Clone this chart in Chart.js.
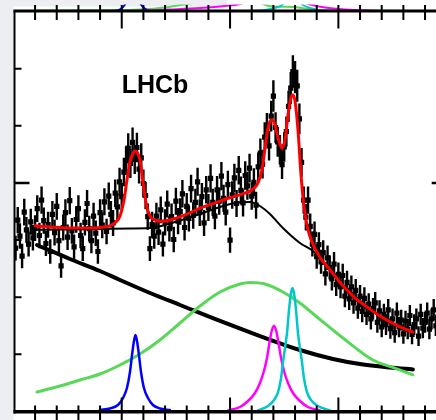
<!DOCTYPE html>
<html>
<head>
<meta charset="utf-8">
<script src="https://cdn.jsdelivr.net/npm/chart.js@4/dist/chart.umd.min.js"></script>
<style>
  html, body { margin: 0; padding: 0; background: #ffffff; }
  #wrap { width: 436px; height: 420px; overflow: hidden; position: relative; }
  canvas { display: block; }
</style>
</head>
<body>
<div id="wrap"><canvas id="c" width="452" height="420"></canvas></div>
<script>
// Histogram: 2 MeV bins starting at 2401 MeV
const binLow = 2401;
const binWidth = 2;
const counts = [
  386, 435, 407, 372, 449, 418, 393, 432, 404, 421,
  455, 408, 470, 434, 394, 427, 380, 445, 413, 459,
  399, 355, 422, 448, 405, 469, 416, 388, 436, 455,
  408, 385, 431, 464, 420, 399, 442, 412, 380, 448,
  426, 467, 415, 477, 445, 430, 482, 458, 502, 476,
  519, 539, 561, 534, 571, 541, 562, 524, 544, 499,
  478, 441, 385, 427, 407, 442, 414, 453, 393, 431,
  463, 420, 441, 401, 468, 433, 450, 481, 422, 459,
  438, 490, 443, 466, 502, 448, 476, 430, 488, 457,
  508, 466, 442, 488, 468, 512, 473, 449, 497, 400,
  479, 509, 464, 522, 487, 465, 513, 495, 526, 477,
  501, 461, 528, 552, 533, 580, 596, 565, 617, 652,
  597, 572, 558, 532, 563, 590, 634, 666, 695, 685,
  670, 612, 536, 470, 440, 470, 424, 393, 410, 371,
  392, 362, 378, 341, 369, 352, 332, 358, 322, 340,
  318, 338, 302, 326, 297, 318, 290, 312, 281, 302,
  275, 298, 270, 288, 262, 280, 290, 256, 276, 248,
  270, 252, 278, 245, 262, 238, 272, 248, 260, 236,
  258, 244, 268, 235, 252, 262, 232, 270, 246, 256,
  272, 244, 262, 278, 250, 266, 255, 274, 248, 262
];

// Fit curves, [mass, events]
const fitTotal = [
  [2420,425],[2434,423],[2452,421],[2471,421],[2480,422],[2489,425],[2494.7,431.6],
  [2498.4,442],[2502.1,470],[2504.8,505],[2507.6,537],[2510.4,552],[2512.2,556],
  [2514.1,554],[2516.8,540],[2519.6,502],[2522.4,465],[2526.1,442],[2530.7,435],
  [2535.3,433],[2544.5,435],[2558.4,444],[2572.2,456],[2586.1,465],[2599.9,474],
  [2613.7,482],[2621.2,489],[2625.8,500],[2629.5,523],[2632.3,561],[2635,596],
  [2637.8,610],[2640.6,607],[2644.3,579],[2647.9,561],[2650.7,575],[2653.5,619],
  [2656.3,650],[2658.1,654],[2660,643],[2662.7,593],[2665.5,514],[2668.3,458],
  [2671.9,418],[2676.5,393],[2683,370],[2692.2,348],[2704.2,320],[2715.3,299],
  [2726.4,283],[2738.4,267],[2747.6,257],[2756.9,248],[2768.8,239]
];
const bkgTotal = [
  [2420,418],[2443,418.5],[2480,419.4],[2507.6,420.3],[2526.1,421.1],[2549.2,431.6],
  [2572.2,445.6],[2590.7,457.9],[2604.5,464.9],[2618.4,466.6],[2627.6,459.6],
  [2636.8,445.6],[2648.8,421.1],[2664.5,394.9],[2676.5,380.9],[2683,368.6],
  [2692.2,346.8],[2704.2,318.8],[2715.3,297.8],[2726.4,282],[2738.4,266.3],
  [2747.6,255.8],[2756.9,247],[2768.8,238.3]
];
const bkgSmooth = [
  [2421.8,391.4],[2452.2,366.9],[2479.9,345.9],[2498.4,330.1],[2526.1,307.4],
  [2553.8,286.4],[2590.7,258.4],[2627.6,232.1],[2664.5,207.6],[2695,191.9],
  [2719.9,183.1],[2747.6,177],[2768.8,173.5]
];
const broadState = [
  [2421.8,134.1],[2443,144.6],[2461.5,155.1],[2479.9,165.6],[2498.4,181.4],
  [2516.8,200.6],[2535.3,225.1],[2553.8,254.9],[2572.2,284.6],[2590.7,309.1],
  [2609.2,323.1],[2618.4,325.8],[2632.3,323.1],[2648.8,309.1],[2664.5,289.9],
  [2680.2,265.4],[2704.2,228.6],[2731.9,190.1],[2752.2,176],[2768.8,164]
];
const peakA = [
  [2479.9,102.6],[2489.2,105.3],[2496.5,111.4],[2501.2,123.6],[2504.8,141.1],
  [2507.6,169.1],[2509.5,198.9],[2511.3,223.4],[2512.7,233.9],[2514.1,223.4],
  [2515.9,198.9],[2517.8,169.1],[2520.5,141.1],[2524.2,123.6],[2528.8,111.4],
  [2535.3,105.3],[2544.5,102.6]
];
const peakB = [
  [2598.1,101.8],[2609.2,107.9],[2616.6,118.4],[2623,132.4],[2627.6,149.9],
  [2631.3,170.9],[2634.1,193.6],[2636.8,225.1],[2638.7,242.6],[2640.6,249.6],
  [2642.4,242.6],[2644.3,225.1],[2647.1,193.6],[2649.8,170.9],[2653.5,149.9],
  [2658.1,132.4],[2664.5,118.4],[2671.9,107.9],[2683,101.8]
];
const peakC = [
  [2625.8,101.8],[2635,109.6],[2640.6,120.1],[2644.3,134.1],[2647.1,158.6],
  [2648.9,186.6],[2650.7,211.1],[2652.6,237.4],[2654.4,277.6],[2656.3,307.4],
  [2657.6,316.1],[2659,307.4],[2660.9,277.6],[2662.7,237.4],[2664.5,211.1],
  [2666.4,186.6],[2668.2,158.6],[2671,134.1],[2674.7,120.1],[2681.1,109.6],
  [2692.2,101.8]
];

// Lower edge of the panel above (its own event axis)
const upperBroad = [
  [2421.8,101.6],[2479.9,102.3],[2516.8,103.5],[2539.9,107],[2553.8,111.4],
  [2572.2,116.6],[2599.9,123.6],[2623,118.4],[2638.7,108.8],[2658.1,107.9],
  [2669.2,105.3],[2679.3,102.6],[2719.9,101.6],[2768.8,100.9]
];
const upperPeakA = [
  [2484.5,100.4],[2496.5,101.8],[2501.2,107.9],[2503.9,114.9],[2506.7,123.6],
  [2514.1,123.6],[2516.8,114.9],[2519.6,107.9],[2524.2,101.8],[2535.3,100.4]
];
const upperPeakB = [
  [2516.8,101.2],[2544.5,103.5],[2572.2,106.1],[2595.3,109.6],[2609.2,113.1],
  [2623,120.1],[2659.9,120.1],[2673.8,112.3],[2687.6,107],[2706.1,103.5],[2738.4,100.9]
];
const upperPeakC = [
  [2618.4,100.9],[2632.3,102.6],[2641.5,106.1],[2647.9,111.4],[2651.6,118.4],
  [2662.7,118.4],[2667.3,111.4],[2673.8,106.1],[2683,102.1],[2696.8,100.9]
];

// Axis ticks
const xTicks = [2420,2440,2460,2480,2500,2520,2540,2560,2580,2600,
                2620,2640,2660,2680,2700,2720,2740,2760,2780];
const xMajorTicks = [2500, 2600, 2700];
const yTicks = [200, 300, 400, 500, 600, 700];
const yMajorTicks = [500];

const xy = arr => arr.map(p => ({ x: p[0], y: p[1] }));
const histPoints = counts.map((n, i) => ({ x: binLow + binWidth * (i + 0.5), y: n }));

function curve(label, arr, color, width, order, extra) {
  return Object.assign({
    type: 'line', label, data: xy(arr), borderColor: color, borderWidth: width,
    pointRadius: 0, fill: false, cubicInterpolationMode: 'monotone',
    borderJoinStyle: 'round', borderCapStyle: 'round', order
  }, extra || {});
}
const stripClip = { left: 0, top: 7, right: 0, bottom: -400 };
const upper = { yAxisID: 'yTop', clip: stripClip };

const framePlugin = {
  id: 'frame',
  beforeDraw(chart) {
    const ctx = chart.ctx;
    ctx.save();
    ctx.fillStyle = '#ffffff';
    ctx.fillRect(0, 0, chart.width, chart.height);
    ctx.fillStyle = '#eceef1';
    ctx.fillRect(0, 0, 13.5, chart.height);
    ctx.fillRect(0, 0, 227, 6.5);
    ctx.restore();
  },
  beforeDatasetsDraw(chart) {
    // Poisson error bars under the markers
    const ctx = chart.ctx, xs = chart.scales.x, ys = chart.scales.y, a = chart.chartArea;
    ctx.save();
    ctx.beginPath();
    ctx.rect(a.left, a.top, a.right - a.left, a.bottom - a.top);
    ctx.clip();
    ctx.strokeStyle = '#000';
    ctx.lineWidth = 2.4;
    ctx.lineCap = 'square';
    histPoints.forEach(p => {
      const e = Math.sqrt(p.y);
      const px = xs.getPixelForValue(p.x);
      ctx.beginPath();
      ctx.moveTo(px, ys.getPixelForValue(p.y - e));
      ctx.lineTo(px, ys.getPixelForValue(p.y + e));
      ctx.stroke();
    });
    ctx.restore();
  },
  afterDatasetsDraw(chart) {
    const ctx = chart.ctx, xs = chart.scales.x, ys = chart.scales.y, a = chart.chartArea;
    ctx.save();
    ctx.strokeStyle = '#000';
    ctx.lineCap = 'butt';
    // frame
    ctx.lineWidth = 2;
    ctx.beginPath();
    ctx.moveTo(a.left, a.top - 1); ctx.lineTo(a.left, a.bottom + 2);
    ctx.moveTo(a.right, a.top); ctx.lineTo(a.right, a.bottom);
    ctx.stroke();
    ctx.lineWidth = 3;
    ctx.beginPath();
    ctx.moveTo(a.left - 1, a.top - 0.5); ctx.lineTo(chart.width, a.top - 0.5);
    ctx.stroke();
    ctx.lineWidth = 3.5;
    ctx.beginPath();
    ctx.moveTo(a.left - 1, a.bottom + 0.2); ctx.lineTo(chart.width, a.bottom + 0.2);
    ctx.stroke();
    // x ticks: top and bottom, inward plus the neighbouring panels' ticks
    ctx.lineWidth = 2;
    xTicks.forEach(v => {
      const px = xs.getPixelForValue(v);
      const major = xMajorTicks.includes(v);
      ctx.beginPath();
      ctx.moveTo(px, a.top - 6.5);
      ctx.lineTo(px, a.top + (major ? 17 : 8.5));
      ctx.moveTo(px, a.bottom - (major ? 14 : 6));
      ctx.lineTo(px, a.bottom + 9);
      ctx.stroke();
    });
    // y ticks: left and right, inward
    yTicks.forEach(v => {
      const py = ys.getPixelForValue(v);
      const len = yMajorTicks.includes(v) ? 15 : 7;
      ctx.lineWidth = yMajorTicks.includes(v) ? 2.5 : 2;
      ctx.beginPath();
      ctx.moveTo(a.left, py); ctx.lineTo(a.left + len, py);
      ctx.moveTo(a.right, py); ctx.lineTo(a.right - len, py);
      ctx.stroke();
    });
    // experiment label
    ctx.fillStyle = '#000';
    ctx.font = 'bold 25px "Liberation Sans", Arial, sans-serif';
    ctx.textAlign = 'left';
    ctx.textBaseline = 'alphabetic';
    ctx.fillText('LHCb', xs.getPixelForValue(2500), ys.getPixelForValue(658));
    ctx.restore();
  }
};

new Chart(document.getElementById('c'), {
  type: 'scatter',
  data: {
    datasets: [
      { label: 'Data', data: histPoints, pointStyle: 'rect', pointRadius: 3.7,
        backgroundColor: '#000', borderWidth: 0, order: 20 },
      curve('Background', bkgSmooth, '#000000', 4, 7),
      curve('Broad state', broadState, '#58d858', 3, 6),
      curve('Peak A', peakA, '#0000ff', 2.5, 5),
      curve('Peak B', peakB, '#ff00ff', 2.5, 4),
      curve('Peak C', peakC, '#00c8c8', 2.5, 3),
      curve('Total background', bkgTotal, '#000000', 2, 2),
      curve('Total fit', fitTotal, '#ff0000', 3, 1),
      curve('Upper broad', upperBroad, '#58d858', 2, 12, upper),
      curve('Upper peak A', upperPeakA, '#0000ff', 2, 11, upper),
      curve('Upper peak B', upperPeakB, '#ff00ff', 2, 10, upper),
      curve('Upper peak C', upperPeakC, '#00c8c8', 2, 9, upper)
    ]
  },
  options: {
    responsive: false,
    animation: false,
    devicePixelRatio: 1,
    layout: { padding: { left: 14.5, top: 11.5, right: 5.3, bottom: 8.5 } },
    plugins: { legend: { display: false }, tooltip: { enabled: false } },
    scales: {
      x: { type: 'linear', min: 2401, max: 2800, display: false },
      y: { type: 'linear', min: 100, max: 800, display: false },
      yTop: { type: 'linear', min: -600, max: 100, display: false }
    }
  },
  plugins: [framePlugin]
});
</script>
</body>
</html>
